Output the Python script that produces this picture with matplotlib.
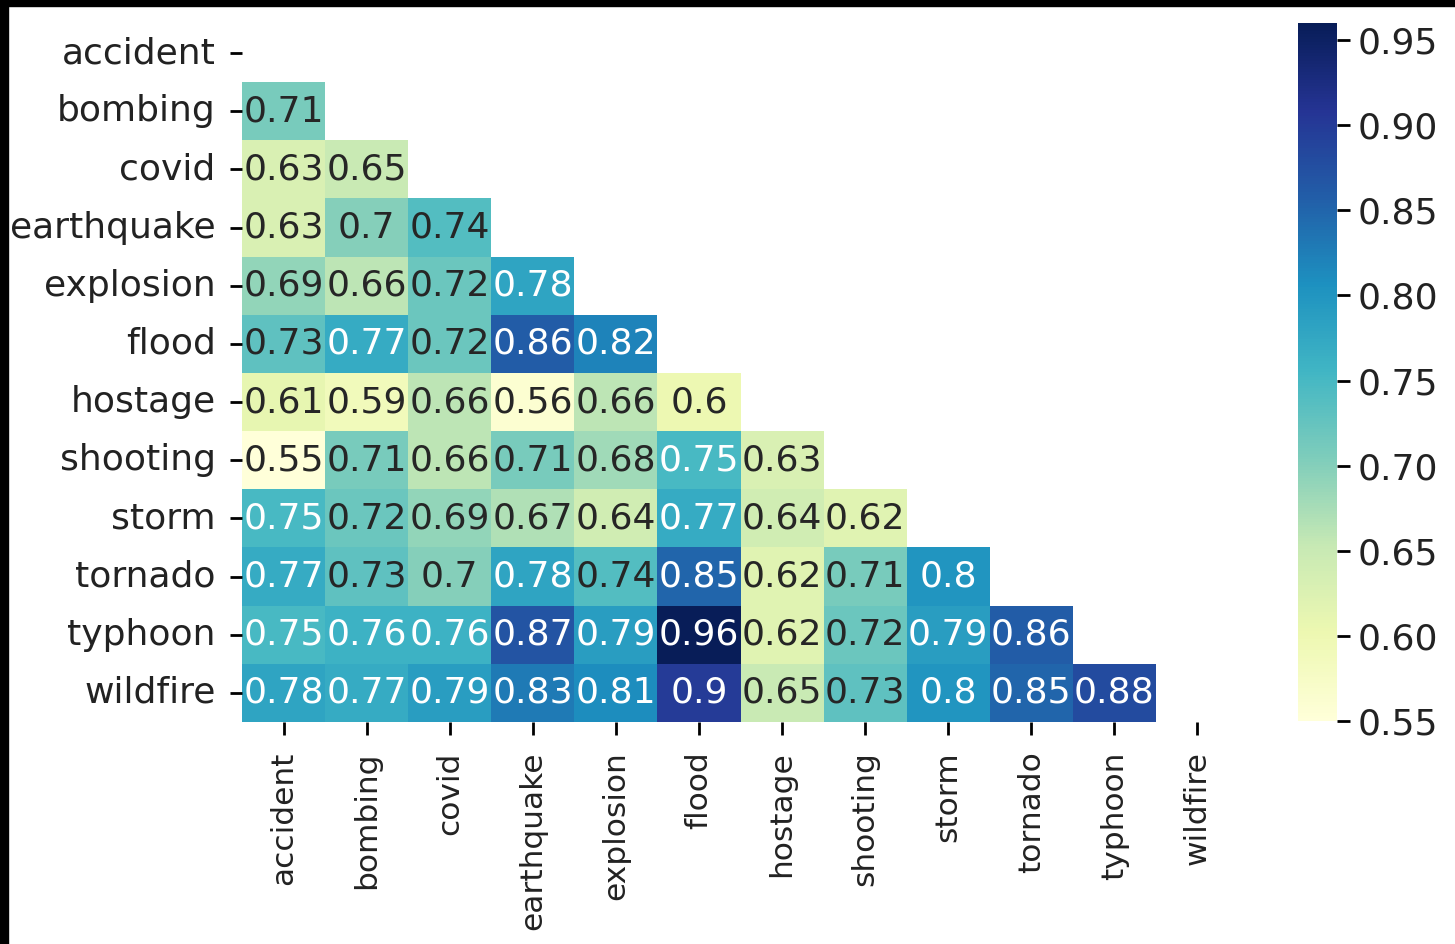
import numpy as np
import pandas as pd
import matplotlib
matplotlib.use('Agg')
import matplotlib.pyplot as plt
import seaborn as sns

#%% data
events = ['accident', 'bombing', 'covid', 'earthquake', 'explosion', 'flood',
          'hostage', 'shooting', 'storm', 'tornado', 'typhoon', 'wildfire']

# lower triangle rows
row_bombing = [0.71]
row_covid = [0.63, 0.65]
row_earthquake = [0.63, 0.70, 0.74]
row_explosion = [0.69, 0.66, 0.72, 0.78]
row_flood = [0.73, 0.77, 0.72, 0.86, 0.82]
row_hostage = [0.61, 0.59, 0.66, 0.56, 0.66, 0.60]
row_shooting = [0.55, 0.71, 0.66, 0.71, 0.68, 0.75, 0.63]
row_storm = [0.75, 0.72, 0.69, 0.67, 0.64, 0.77, 0.64, 0.62]
row_tornado = [0.77, 0.73, 0.70, 0.78, 0.74, 0.85, 0.62, 0.71, 0.80]
row_typhoon = [0.75, 0.76, 0.76, 0.87, 0.79, 0.96, 0.62, 0.72, 0.79, 0.86]
row_wildfire = [0.78, 0.77, 0.79, 0.83, 0.81, 0.90, 0.65, 0.73, 0.80, 0.85, 0.88]

lower_rows = [[], row_bombing, row_covid, row_earthquake, row_explosion, row_flood,
              row_hostage, row_shooting, row_storm, row_tornado, row_typhoon, row_wildfire]

#%% build symmetric similarity matrix
n = len(events)
sim = np.eye(n)
for i, row in enumerate(lower_rows):
    for j, v in enumerate(row):
        sim[i, j] = v
        sim[j, i] = v
sim_df = pd.DataFrame(sim, index=events, columns=events)

#hide the upper triangle (and diagonal)
mask = np.triu(np.ones_like(sim, dtype=bool))

#%% plot
plt.rcParams['font.size'] = 26
plt.rcParams['xtick.major.size'] = 9
plt.rcParams['ytick.major.size'] = 9
plt.rcParams['xtick.major.width'] = 2
plt.rcParams['ytick.major.width'] = 2

W, H = 1455, 944
fig = plt.figure(figsize=(W / 100, H / 100), dpi=100)
ax = fig.add_axes([242 / W, 1 - 722 / H, (1239 - 242) / W, (722 - 24) / H])
cax = fig.add_axes([1298 / W, 1 - 721 / H, 39 / W, (721 - 23) / H])

sns.heatmap(sim_df, mask=mask, annot=True, cmap='YlGnBu', ax=ax, cbar_ax=cax,
            annot_kws={'fontsize': 26})
ax.tick_params(axis='y', labelsize=26, pad=10, labelcolor='#222222')
ax.tick_params(axis='x', labelsize=22.5, pad=12, labelcolor='#222222')
cax.tick_params(labelsize=26, pad=6, labelcolor='#222222')

# black screenshot edges
fig.patches.append(plt.Rectangle((0, 1 - 6 / H), 1, 6 / H, transform=fig.transFigure,
                                 color='black', zorder=10))
fig.patches.append(plt.Rectangle((0, 0), 8 / W, 1, transform=fig.transFigure,
                                 color='black', zorder=10))

fig.savefig('out.png', dpi=100)
